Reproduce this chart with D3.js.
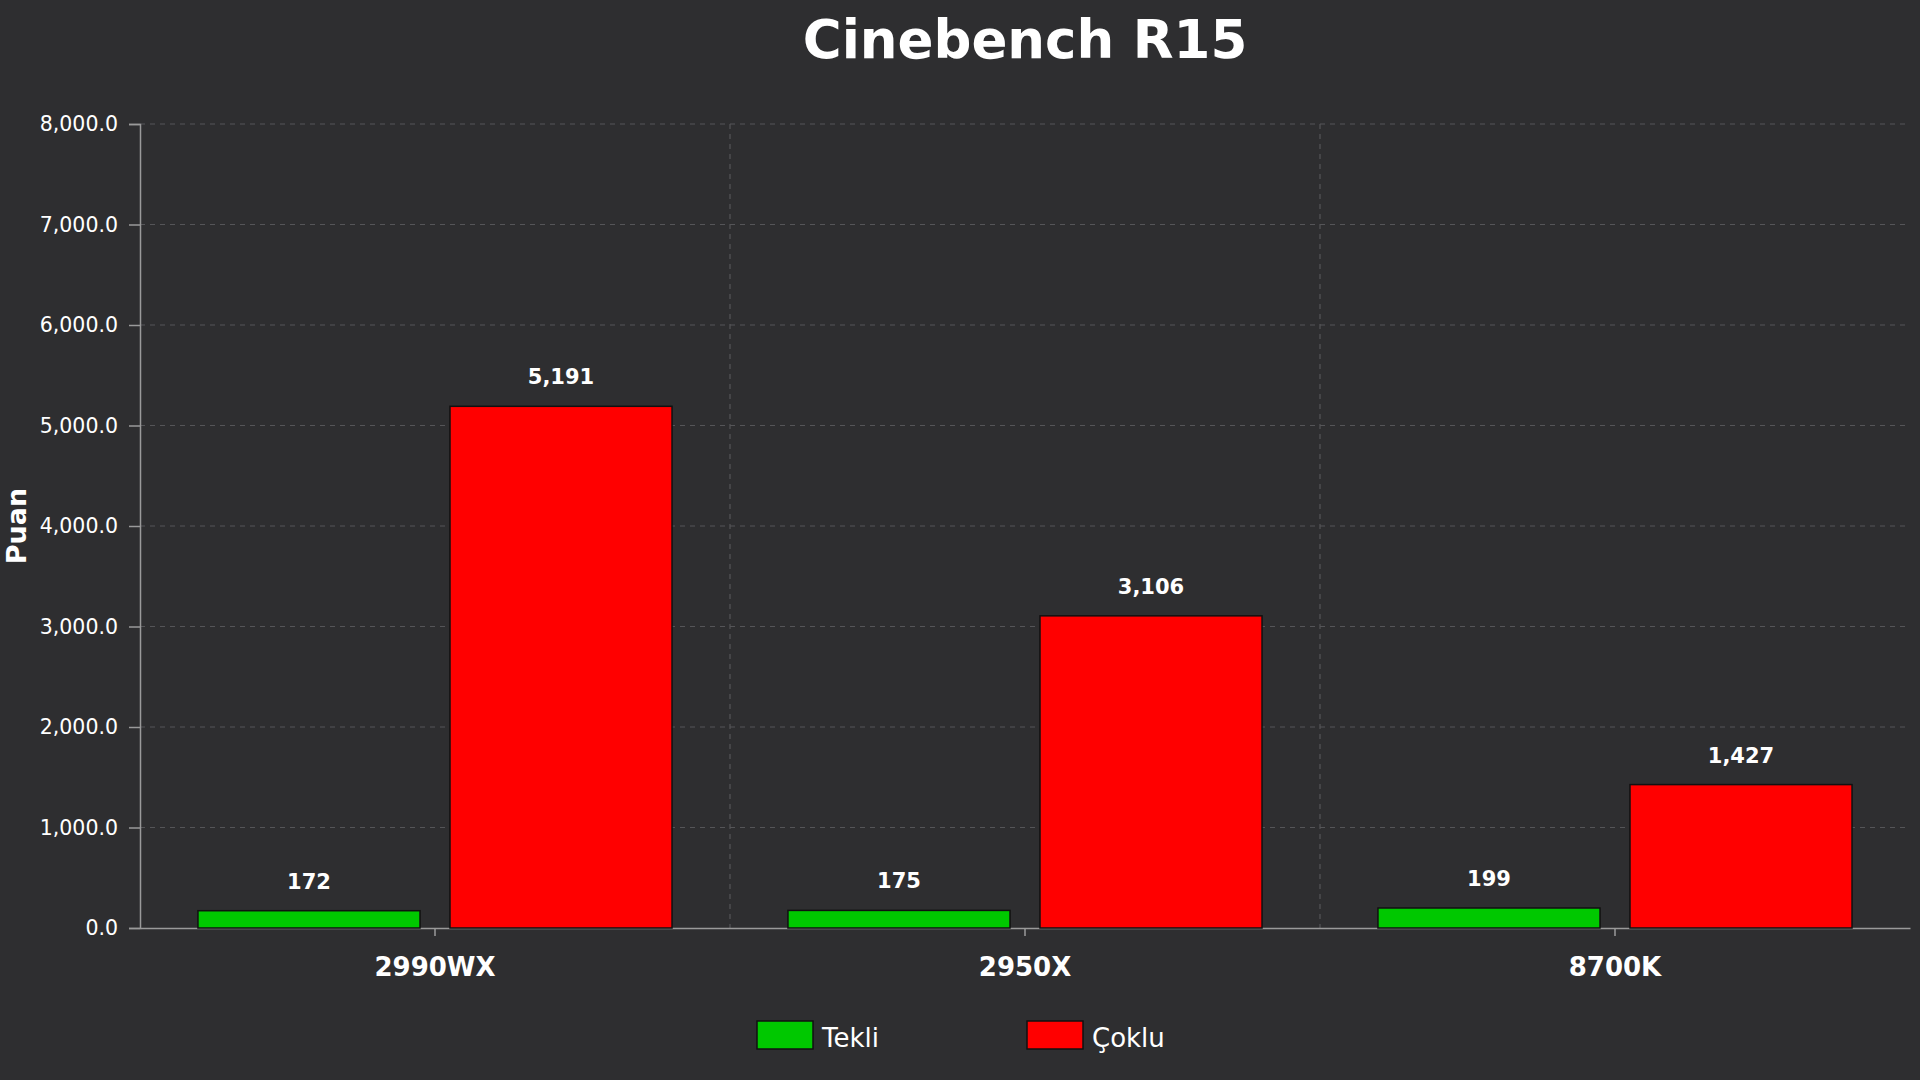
<!DOCTYPE html>
<html>
<head>
<meta charset="utf-8">
<script src="https://cdn.jsdelivr.net/npm/d3@7/dist/d3.min.js"></script>
<style>
  html, body { margin: 0; padding: 0; background: #2e2e30; }
  svg { display: block; }
</style>
</head>
<body>
<svg id="chart" width="1920" height="1080"></svg>
<script>
// Cinebench R15 scores, grouped bars per CPU
const cpus = ['2990WX', '2950X', '8700K'];
const series = ['Tekli', 'Çoklu'];
const tekli = [172, 175, 199];
const coklu = [5191, 3106, 1427];
const yTicks = [0, 1000, 2000, 3000, 4000, 5000, 6000, 7000, 8000];
const colors = ['#00c800', '#ff0000'];

const W = 1920, H = 1080;
const m = { top: 124, right: 10, bottom: 152, left: 140 };
const svg = d3.select('#chart');
const font = "'DejaVu Sans', Verdana, sans-serif";

const x0 = d3.scaleBand().domain(cpus).range([m.left, W - m.right]);
const x1 = d3.scaleBand().domain(series).range([0, x0.bandwidth()])
  .paddingInner(0.119).paddingOuter(0.23);
const y = d3.scaleLinear().domain([0, 8000]).range([H - m.bottom, m.top]);

// grid
const grid = svg.append('g');
grid.selectAll('line.h').data(yTicks.slice(1)).enter().append('line')
  .attr('x1', m.left).attr('x2', W - m.right)
  .attr('y1', (d) => y(d)).attr('y2', (d) => y(d))
  .attr('stroke', '#555558').attr('stroke-width', 1.2).attr('stroke-dasharray', '5,5');
grid.selectAll('line.v').data(cpus.slice(1)).enter().append('line')
  .attr('x1', (d) => x0(d)).attr('x2', (d) => x0(d))
  .attr('y1', m.top).attr('y2', H - m.bottom)
  .attr('stroke', '#555558').attr('stroke-width', 1.2).attr('stroke-dasharray', '5,5');

// y axis
const yAxis = svg.append('g').attr('transform', `translate(${m.left},0)`)
  .call(d3.axisLeft(y).tickValues(yTicks).tickFormat(d3.format(',.1f')).tickSize(11).tickPadding(11));
yAxis.select('.domain').attr('stroke', '#9a9a9a').attr('stroke-width', 1.5);
yAxis.selectAll('.tick line').attr('stroke', '#9a9a9a').attr('stroke-width', 1.5);
yAxis.selectAll('text').attr('fill', '#ffffff').attr('font-family', font).attr('font-size', 20.5);

// x axis
const xAxis = svg.append('g').attr('transform', `translate(0,${H - m.bottom})`)
  .call(d3.axisBottom(x0).tickSize(8).tickPadding(22).tickSizeOuter(0));
xAxis.select('.domain').attr('stroke', '#9a9a9a').attr('stroke-width', 1.5);
xAxis.selectAll('.tick line').attr('stroke', '#9a9a9a').attr('stroke-width', 1.5);
xAxis.selectAll('text').attr('fill', '#ffffff').attr('font-family', font)
  .attr('font-size', 26).attr('font-weight', 'bold');

// bars
const rows = cpus.map((c, i) => ({ cpu: c, vals: [tekli[i], coklu[i]] }));
const groups = svg.selectAll('g.grp').data(rows).enter().append('g')
  .attr('transform', (d) => `translate(${x0(d.cpu)},0)`);
groups.selectAll('rect').data((d) => d.vals.map((v, j) => ({ s: series[j], v, j })))
  .enter().append('rect')
  .attr('x', (d) => x1(d.s)).attr('width', x1.bandwidth())
  .attr('y', (d) => y(d.v)).attr('height', (d) => y(0) - y(d.v))
  .attr('fill', (d) => colors[d.j]).attr('stroke', '#111').attr('stroke-width', 1.5);
groups.selectAll('text').data((d) => d.vals.map((v, j) => ({ s: series[j], v })))
  .enter().append('text')
  .attr('x', (d) => x1(d.s) + x1.bandwidth() / 2).attr('y', (d) => y(d.v) - 22)
  .attr('text-anchor', 'middle').attr('fill', '#ffffff')
  .attr('font-family', font).attr('font-size', 21).attr('font-weight', 'bold')
  .text((d) => d3.format(',')(d.v));

// title
svg.append('text').attr('x', (m.left + W - m.right) / 2).attr('y', 58)
  .attr('text-anchor', 'middle').attr('fill', '#ffffff')
  .attr('font-family', font).attr('font-size', 53).attr('font-weight', 'bold')
  .text('Cinebench R15');

// y label
svg.append('text').attr('transform', `translate(26,${(m.top + H - m.bottom) / 2}) rotate(-90)`)
  .attr('text-anchor', 'middle').attr('fill', '#ffffff')
  .attr('font-family', font).attr('font-size', 27).attr('font-weight', 'bold')
  .text('Puan');

// legend
const legend = svg.append('g').attr('transform', 'translate(757,1021)');
const items = legend.selectAll('g').data(series).enter().append('g')
  .attr('transform', (d, i) => `translate(${i * 270},0)`);
items.append('rect').attr('width', 56).attr('height', 28)
  .attr('fill', (d, i) => colors[i]).attr('stroke', '#111').attr('stroke-width', 1.5);
items.append('text').attr('x', 65).attr('y', 26)
  .attr('fill', '#ffffff').attr('font-family', font).attr('font-size', 26)
  .text((d) => d);
</script>
</body>
</html>
